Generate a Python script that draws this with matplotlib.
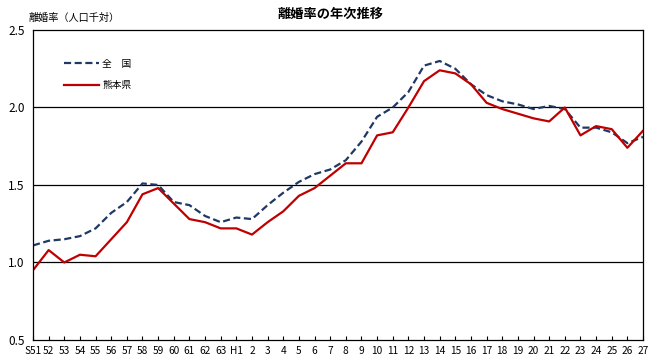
import matplotlib
matplotlib.use('Agg')
import matplotlib.pyplot as plt

plt.rcParams['font.family'] = ['Noto Sans CJK JP', 'DejaVu Sans']

# ── Data ─────────────────────────────────────────────────────────────────────
years = ['S51', '52', '53', '54', '55', '56', '57', '58', '59', '60', '61', '62', '63',
         'H1', '2', '3', '4', '5', '6', '7', '8', '9', '10', '11', '12', '13', '14',
         '15', '16', '17', '18', '19', '20', '21', '22', '23', '24', '25', '26', '27']

zenkoku = [1.11, 1.14, 1.15, 1.17, 1.22, 1.32, 1.39, 1.51, 1.50, 1.39, 1.37, 1.30, 1.26,
           1.29, 1.28, 1.37, 1.45, 1.52, 1.57, 1.60, 1.66, 1.78, 1.94, 2.00, 2.10, 2.27,
           2.30, 2.25, 2.15, 2.08, 2.04, 2.02, 1.99, 2.01, 1.99, 1.87, 1.87, 1.84, 1.77, 1.81]

kumamoto = [0.95, 1.08, 1.00, 1.05, 1.04, 1.15, 1.26, 1.44, 1.48, 1.38, 1.28, 1.26, 1.22,
            1.22, 1.18, 1.26, 1.33, 1.43, 1.48, 1.56, 1.64, 1.64, 1.82, 1.84, 2.00, 2.17,
            2.24, 2.22, 2.15, 2.03, 1.99, 1.96, 1.93, 1.91, 2.00, 1.82, 1.88, 1.86, 1.74, 1.85]

yticks = [0.5, 1.0, 1.5, 2.0, 2.5]

# ── Plot ─────────────────────────────────────────────────────────────────────
fig = plt.figure(figsize=(6.55, 3.64), dpi=100)
ax = fig.add_axes([0.0504, 0.066, 0.9313, 0.8516])

x = list(range(len(years)))
ax.plot(x, zenkoku, color='#1F3864', linewidth=1.6, dashes=(3.2, 1.6), label='全\u3000国')
ax.plot(x, kumamoto, color='#C00000', linewidth=1.6, label='熊本県')

ax.set_xlim(0, len(years) - 1)
ax.set_ylim(0.5, 2.5)
ax.set_yticks(yticks)
ax.set_yticklabels([f'{v:.1f}' for v in yticks], fontsize=8.5)
ax.set_xticks(x)
ax.set_xticklabels(years, fontsize=7.3)

for v in [1.0, 1.5, 2.0]:
    ax.axhline(v, color='black', linewidth=0.9, zorder=0)

for s in ax.spines.values():
    s.set_color('black')
    s.set_linewidth(0.9)

ax.tick_params(axis='x', direction='in', length=3, width=0.8, pad=4)
ax.tick_params(axis='y', length=0, pad=6)

ax.legend(loc='upper left', bbox_to_anchor=(0.037, 0.935), frameon=False,
          fontsize=7, handlelength=3.6, handletextpad=0.3, labelspacing=1.15)

fig.text(0.505, 0.962, '離婚率の年次推移', ha='center', va='center',
         fontsize=9.5, fontweight='bold')
fig.text(0.044, 0.952, '離婚率（人口千対）', ha='left', va='center', fontsize=7.3)

plt.savefig('out.png', dpi=100)
plt.close()
